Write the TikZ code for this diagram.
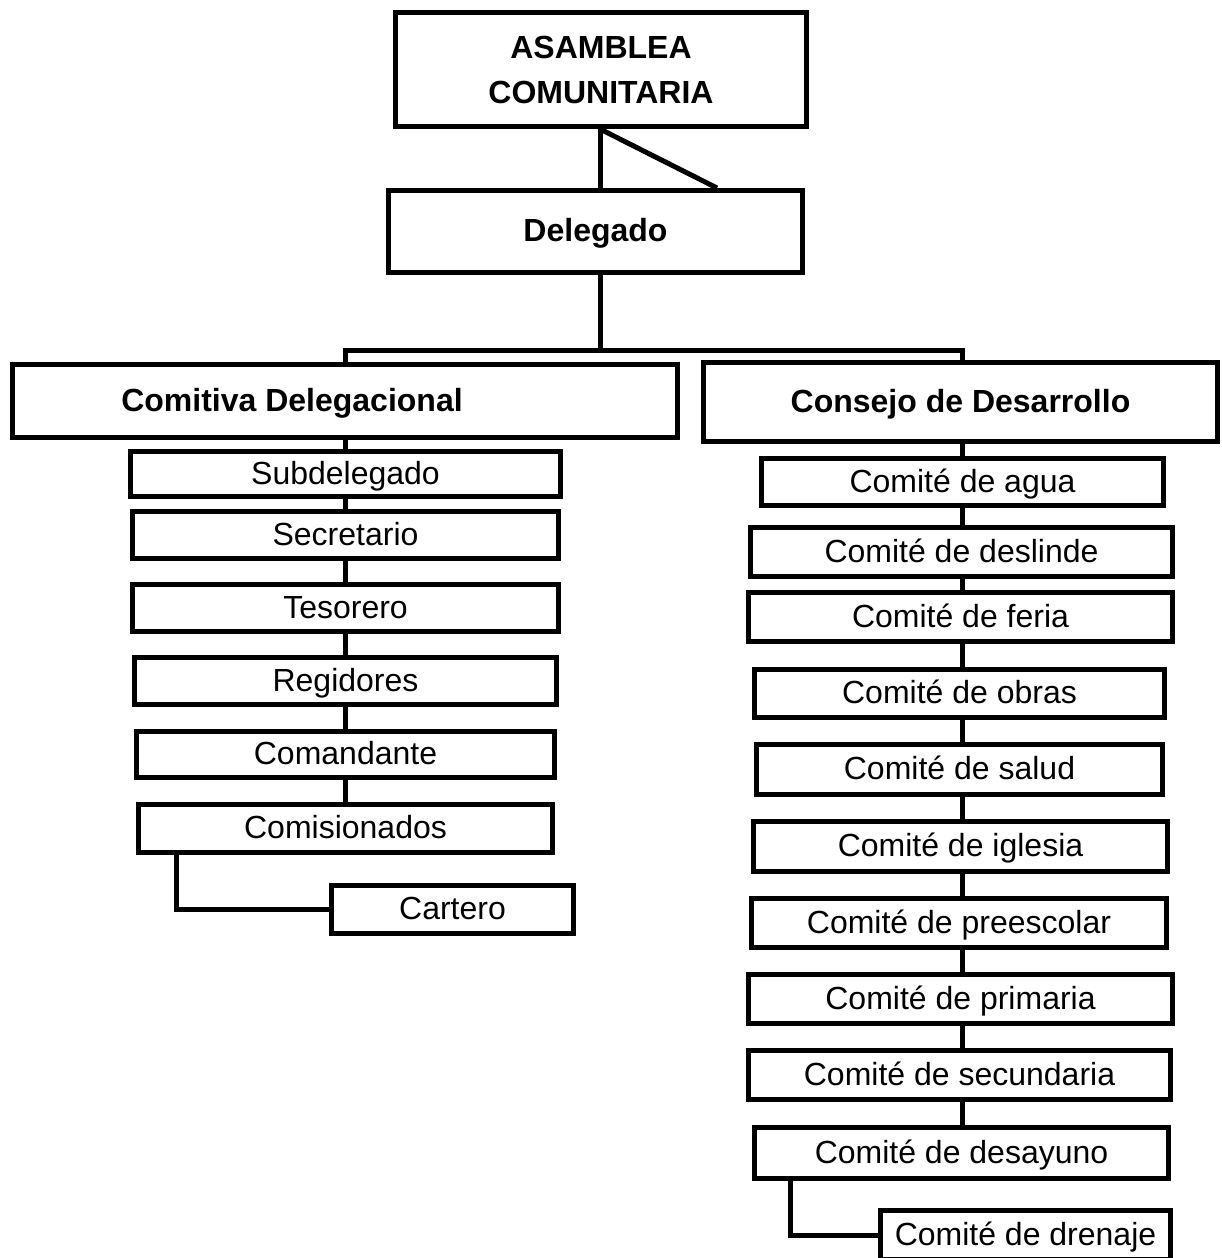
\documentclass[tikz,border=0pt]{standalone}
\usepackage{fontspec}
\setmainfont{Liberation Sans}
\begin{document}
\begin{tikzpicture}[x=1pt,y=-1pt,
  bx/.style={draw, line width=5pt, inner sep=0pt, fill=white,
    text height=25pt, text depth=5pt,
    font=\fontsize{32}{37}\selectfont},
  bbx/.style={bx, font=\fontsize{32}{37}\selectfont\bfseries},
  conn/.style={line width=5pt}]
\useasboundingbox[fill=white] (0,0) rectangle (1222,1258);
% top
\node[draw, line width=5pt, inner sep=0pt, fill=white, align=center,
  font=\fontsize{32}{45}\selectfont\bfseries,
  minimum width=411pt, minimum height=114pt] (asam) at (601,69.5) {ASAMBLEA\\COMUNITARIA};
\node[bbx, minimum width=414pt, minimum height=82pt] (deleg) at (595.5,231.5) {Delegado};
\node[bx, minimum width=665pt, minimum height=73pt] (comitiva) at (345,401) {};
\node[text height=25pt, text depth=5pt, inner sep=0pt,
  font=\fontsize{32}{37}\selectfont\bfseries] (comitivatxt) at (292,401) {Comitiva Delegacional};
\node[bbx, minimum width=514pt, minimum height=79pt] (consejo) at (960.5,402) {Consejo de Desarrollo};
% left column
\node[bx, minimum width=430pt, minimum height=45pt] (sub) at (345.5,474) {Subdelegado};
\node[bx, minimum width=426pt, minimum height=47pt] (sec) at (345.5,535) {Secretario};
\node[bx, minimum width=426pt, minimum height=47pt] (tes) at (345.5,608) {Tesorero};
\node[bx, minimum width=422pt, minimum height=47pt] (reg) at (345.5,681) {Regidores};
\node[bx, minimum width=418pt, minimum height=46pt] (coma) at (345.5,754.5) {Comandante};
\node[bx, minimum width=414pt, minimum height=48pt] (comis) at (345.5,828.5) {Comisionados};
\node[bx, minimum width=242pt, minimum height=48pt] (cart) at (452.5,909.5) {Cartero};
% right column
\node[bx, minimum width=402pt, minimum height=47pt] (agua) at (962.5,482) {Comité de agua};
\node[bx, minimum width=422pt, minimum height=49pt] (desl) at (961.5,552) {Comité de deslinde};
\node[bx, minimum width=424pt, minimum height=49pt] (feria) at (960.5,617) {Comité de feria};
\node[bx, minimum width=410pt, minimum height=48pt] (obras) at (959.5,693.5) {Comité de obras};
\node[bx, minimum width=406pt, minimum height=50pt] (salud) at (959.5,769.5) {Comité de salud};
\node[bx, minimum width=414pt, minimum height=50pt] (igl) at (960.5,846.5) {Comité de iglesia};
\node[bx, minimum width=415pt, minimum height=49pt] (prees) at (959,923) {Comité de preescolar};
\node[bx, minimum width=424pt, minimum height=49pt] (prim) at (960.5,999) {Comité de primaria};
\node[bx, minimum width=422pt, minimum height=49pt] (secu) at (959.5,1075) {Comité de secundaria};
\node[bx, minimum width=414pt, minimum height=51pt] (desay) at (961.5,1153) {Comité de desayuno};
\node[bx, minimum width=290pt, minimum height=49pt] (dren) at (1025.5,1235) {Comité de drenaje};
% connectors
\coordinate (jl) at (345,350);
\coordinate (jr) at (962,350);
\coordinate (dv) at (600,350);
\draw[conn] (asam.south -| dv) -- (deleg.north -| dv);
\draw[conn] (asam.south -| dv) -- ([xshift=121.5pt]deleg.north);
\draw[conn] (deleg.south -| dv) -- (dv);
\draw[conn] (comitiva.north -| jl) -- (jl) -- (jr) -- (consejo.north -| jr);
\foreach \a/\b in {comitiva/sub, sub/sec, sec/tes, tes/reg, reg/coma, coma/comis}
  \draw[conn] (\a.south -| jl) -- (\b.north -| jl);
\foreach \a/\b in {consejo/agua, agua/desl, desl/feria, feria/obras, obras/salud, salud/igl, igl/prees, prees/prim, prim/secu, secu/desay}
  \draw[conn] (\a.south -| jr) -- (\b.north -| jr);
\draw[conn] ([xshift=40.5pt]comis.south west) |- (cart.west);
\draw[conn] ([xshift=38.5pt]desay.south west) |- (dren.west);
\end{tikzpicture}
\end{document}
